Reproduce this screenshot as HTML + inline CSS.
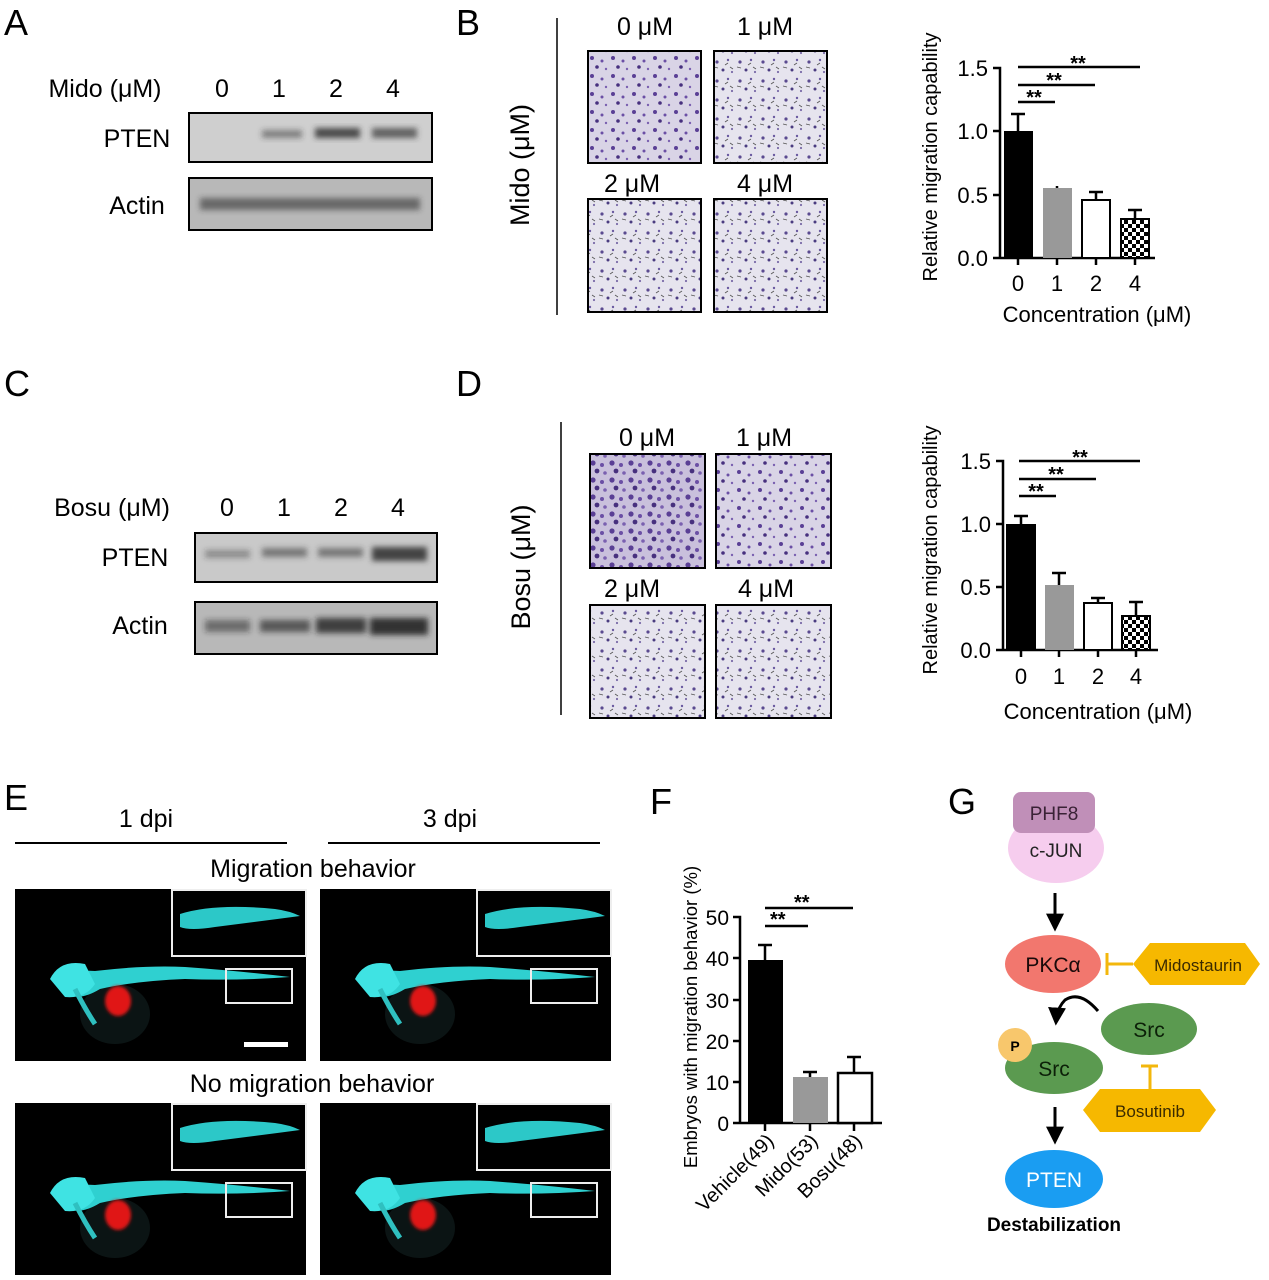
<!DOCTYPE html>
<html><head><meta charset="utf-8"><style>
html,body{margin:0;padding:0;background:#fff}
svg{display:block;font-family:"Liberation Sans",Arial,sans-serif}
</style></head><body>
<svg width="1269" height="1280" viewBox="0 0 1269 1280" xmlns="http://www.w3.org/2000/svg">
<defs>
<filter id="bl" x="-20%" y="-50%" width="140%" height="200%"><feGaussianBlur stdDeviation="3"/></filter>
<filter id="bl2"><feGaussianBlur stdDeviation="1.5"/></filter>
<pattern id="cellsL" width="23" height="19" patternUnits="userSpaceOnUse">
<rect width="23" height="19" fill="#e6e4ee"/>
<circle cx="4" cy="5" r="1.6" fill="#5a4a90"/><circle cx="15" cy="3" r="1.2" fill="#6a5aa0"/>
<circle cx="10" cy="13" r="1.5" fill="#4a3c80"/><circle cx="19" cy="15" r="1.1" fill="#7a6aa8"/>
<path d="M1 10 l4 1 M12 8 l3 -2 M17 10 l3 2" stroke="#555" stroke-width="0.8"/>
</pattern>
<pattern id="cellsD" width="19" height="17" patternUnits="userSpaceOnUse">
<rect width="19" height="17" fill="#c9c0dc"/>
<circle cx="4" cy="4" r="2.6" fill="#5a3f95"/><circle cx="13" cy="6" r="2" fill="#6b4fa5"/>
<circle cx="8" cy="12" r="2.4" fill="#47307e"/><circle cx="16" cy="14" r="1.8" fill="#7a60b0"/>
</pattern>
<pattern id="cellsM" width="21" height="18" patternUnits="userSpaceOnUse">
<rect width="21" height="18" fill="#d9d4e6"/>
<circle cx="4" cy="4" r="2" fill="#5a3f95"/><circle cx="14" cy="7" r="1.5" fill="#6b4fa5"/>
<circle cx="9" cy="13" r="1.8" fill="#47307e"/><circle cx="18" cy="15" r="1.2" fill="#7a60b0"/>
</pattern>
<pattern id="check" width="8" height="8" patternUnits="userSpaceOnUse">
<rect width="8" height="8" fill="#fff"/><rect width="4" height="4" fill="#000"/><rect x="4" y="4" width="4" height="4" fill="#000"/>
</pattern>
<marker id="ah" viewBox="0 0 10 10" refX="8" refY="5" markerWidth="6" markerHeight="6" orient="auto"><path d="M0 0 L10 5 L0 10 z" fill="#000"/></marker>
<g id="fish">
<rect width="291" height="172" fill="#000"/>
<ellipse cx="100" cy="125" rx="35" ry="30" fill="#0b1414"/>
<path d="M45 95 Q55 80 80 82 Q130 76 170 78 Q225 82 275 88 Q220 92 170 90 Q120 92 85 100 Q65 112 55 105 Z" fill="#2fd0d0"/>
<path d="M35 90 Q45 70 70 75 L80 95 Q70 110 50 108 Z" fill="#3fe3e3"/>
<path d="M60 100 Q70 120 80 135" stroke="#2fc0c0" stroke-width="5" fill="none"/>
<ellipse cx="103" cy="112" rx="13" ry="15" fill="#e01818" filter="url(#bl2)"/>
<rect x="157" y="1" width="134" height="66" fill="#000" stroke="#eee" stroke-width="2"/>
<path d="M165 25 Q200 14 260 20 Q275 22 285 27 Q240 33 200 38 Q175 42 165 38 Z" fill="#2cc8c8"/>
<rect x="211" y="80" width="66" height="34" fill="none" stroke="#eee" stroke-width="2"/>
</g>
</defs>
<g font-size="36" fill="#000">
<text x="4" y="35">A</text><text x="456" y="35">B</text>
<text x="4" y="396">C</text><text x="456" y="396">D</text>
<text x="4" y="810">E</text><text x="650" y="814">F</text>
<text x="948" y="814">G</text>
</g>
<!-- A -->
<g font-size="25" text-anchor="middle">
<text x="105" y="97">Mido (μM)</text>
<text x="222" y="97">0</text><text x="279" y="97">1</text><text x="336" y="97">2</text><text x="393" y="97">4</text>
<text x="137" y="147">PTEN</text><text x="137" y="214">Actin</text>
</g>
<rect x="189" y="113" width="243" height="49" fill="#cfcfcf" stroke="#000" stroke-width="2"/>
<g filter="url(#bl)" fill="#333"><rect x="262" y="130" width="40" height="8" opacity="0.5"/><rect x="315" y="128" width="45" height="10" opacity="0.85"/><rect x="372" y="128" width="45" height="10" opacity="0.7"/></g>
<rect x="189" y="178" width="243" height="52" fill="#b8b8b8" stroke="#000" stroke-width="2"/>
<g filter="url(#bl)" fill="#333"><rect x="200" y="198" width="220" height="12" opacity="0.6"/></g>
<!-- B -->
<line x1="557" y1="18" x2="557" y2="315" stroke="#000" stroke-width="1.5"/>
<text transform="translate(529,165) rotate(-90)" font-size="27" text-anchor="middle">Mido (μM)</text>
<g font-size="25" text-anchor="middle"><text x="645" y="35">0 μM</text><text x="765" y="35">1 μM</text><text x="632" y="192">2 μM</text><text x="765" y="192">4 μM</text></g>
<rect x="588" y="51" width="113" height="112" fill="url(#cellsM)" stroke="#000" stroke-width="2"/>
<rect x="714" y="51" width="113" height="112" fill="url(#cellsL)" stroke="#000" stroke-width="2"/>
<rect x="588" y="199" width="113" height="113" fill="url(#cellsL)" stroke="#000" stroke-width="2"/>
<rect x="714" y="199" width="113" height="113" fill="url(#cellsL)" stroke="#000" stroke-width="2"/>
<!-- B chart -->
<g stroke="#000" stroke-width="2.5" fill="none">
<path d="M993 68 H1000 V258 H1155 M993 131H1000 M993 195H1000 M993 258H1000 M1018 258v7 M1057 258v7 M1096 258v7 M1135 258v7"/>
<path d="M1018 102H1055 M1018 85H1095 M1018 67H1140"/>
<path d="M1018 131V114 M1011 114H1025 M1057 188V186 M1096 200V192 M1089 192H1103 M1135 219V210 M1128 210H1142"/>
</g>
<rect x="1004" y="131" width="29" height="127" fill="#000"/>
<rect x="1043" y="188" width="29" height="70" fill="#999"/>
<rect x="1082" y="200" width="28" height="58" fill="#fff" stroke="#000" stroke-width="2"/>
<rect x="1121" y="219" width="28" height="39" fill="url(#check)" stroke="#000" stroke-width="2"/>
<g font-size="22" text-anchor="end"><text x="988" y="76">1.5</text><text x="988" y="139">1.0</text><text x="988" y="203">0.5</text><text x="988" y="266">0.0</text></g>
<g font-size="22" text-anchor="middle"><text x="1018" y="291">0</text><text x="1057" y="291">1</text><text x="1096" y="291">2</text><text x="1135" y="291">4</text>
<text x="1097" y="322">Concentration (μM)</text>
<text transform="translate(937,157) rotate(-90)" font-size="20">Relative migration capability</text>
<text x="1034" y="104" font-size="20" font-weight="bold">**</text><text x="1054" y="87" font-size="20" font-weight="bold">**</text><text x="1078" y="70" font-size="20" font-weight="bold">**</text></g>
<!-- C -->
<g font-size="25" text-anchor="middle">
<text x="112" y="516">Bosu (μM)</text>
<text x="227" y="516">0</text><text x="284" y="516">1</text><text x="341" y="516">2</text><text x="398" y="516">4</text>
<text x="135" y="566">PTEN</text><text x="140" y="634">Actin</text>
</g>
<rect x="195" y="533" width="242" height="49" fill="#c9c9c9" stroke="#000" stroke-width="2"/>
<g filter="url(#bl)" fill="#333"><rect x="205" y="550" width="45" height="8" opacity="0.4"/><rect x="262" y="548" width="45" height="9" opacity="0.55"/><rect x="318" y="548" width="45" height="9" opacity="0.55"/><rect x="372" y="547" width="55" height="14" opacity="0.9"/></g>
<rect x="195" y="602" width="242" height="52" fill="#b8b8b8" stroke="#000" stroke-width="2"/>
<g filter="url(#bl)" fill="#222"><rect x="205" y="620" width="45" height="12" opacity="0.5"/><rect x="260" y="620" width="50" height="12" opacity="0.65"/><rect x="316" y="618" width="50" height="15" opacity="0.8"/><rect x="370" y="618" width="58" height="17" opacity="0.9"/></g>
<!-- D -->
<line x1="561" y1="422" x2="561" y2="715" stroke="#000" stroke-width="1.5"/>
<text transform="translate(530,567) rotate(-90)" font-size="27" text-anchor="middle">Bosu (μM)</text>
<g font-size="25" text-anchor="middle"><text x="647" y="446">0 μM</text><text x="764" y="446">1 μM</text><text x="632" y="597">2 μM</text><text x="766" y="597">4 μM</text></g>
<rect x="590" y="454" width="115" height="114" fill="url(#cellsD)" stroke="#000" stroke-width="2"/>
<rect x="716" y="454" width="115" height="114" fill="url(#cellsM)" stroke="#000" stroke-width="2"/>
<rect x="590" y="605" width="115" height="113" fill="url(#cellsL)" stroke="#000" stroke-width="2"/>
<rect x="716" y="605" width="115" height="113" fill="url(#cellsL)" stroke="#000" stroke-width="2"/>
<!-- D chart -->
<g stroke="#000" stroke-width="2.5" fill="none">
<path d="M996 461 H1003 V650 H1158 M996 524H1003 M996 587H1003 M996 650H1003 M1021 650v7 M1059 650v7 M1098 650v7 M1136 650v7"/>
<path d="M1019 496H1056 M1019 479H1096 M1019 461H1140"/>
<path d="M1021 524V516 M1014 516H1028 M1059 585V573 M1052 573H1066 M1098 603V598 M1091 598H1105 M1136 616V602 M1129 602H1143"/>
</g>
<rect x="1006" y="524" width="30" height="126" fill="#000"/>
<rect x="1045" y="585" width="29" height="65" fill="#999"/>
<rect x="1084" y="603" width="28" height="47" fill="#fff" stroke="#000" stroke-width="2"/>
<rect x="1122" y="616" width="28" height="34" fill="url(#check)" stroke="#000" stroke-width="2"/>
<g font-size="22" text-anchor="end"><text x="991" y="469">1.5</text><text x="991" y="532">1.0</text><text x="991" y="595">0.5</text><text x="991" y="658">0.0</text></g>
<g font-size="22" text-anchor="middle"><text x="1021" y="684">0</text><text x="1059" y="684">1</text><text x="1098" y="684">2</text><text x="1136" y="684">4</text>
<text x="1098" y="719">Concentration (μM)</text>
<text transform="translate(937,550) rotate(-90)" font-size="20">Relative migration capability</text>
<text x="1036" y="498" font-size="20" font-weight="bold">**</text><text x="1056" y="481" font-size="20" font-weight="bold">**</text><text x="1080" y="464" font-size="20" font-weight="bold">**</text></g>
<!-- E -->
<g font-size="25" text-anchor="middle">
<text x="146" y="827">1 dpi</text><text x="450" y="827">3 dpi</text>
<text x="313" y="877">Migration behavior</text><text x="312" y="1092">No migration behavior</text>
</g>
<line x1="15" y1="843" x2="287" y2="843" stroke="#000" stroke-width="2"/>
<line x1="328" y1="843" x2="600" y2="843" stroke="#000" stroke-width="2"/>
<use href="#fish" x="15" y="889"/>
<rect x="244" y="1042" width="44" height="5" fill="#fff"/>
<use href="#fish" x="320" y="889"/>
<use href="#fish" x="15" y="1103"/>
<use href="#fish" x="320" y="1103"/>
<!-- F -->
<g stroke="#000" stroke-width="2.5" fill="none">
<path d="M733 917H740V1123H882 M733 958H740 M733 1000H740 M733 1041H740 M733 1082H740 M733 1123H740 M765 1123v8 M810 1123v8 M854 1123v8"/>
<path d="M765 926H808 M765 908H853"/>
<path d="M765 960V945 M758 945H772 M810 1077V1072 M803 1072H817 M854 1073V1057 M847 1057H861"/>
</g>
<rect x="748" y="960" width="35" height="163" fill="#000"/>
<rect x="793" y="1077" width="35" height="46" fill="#999"/>
<rect x="838" y="1073" width="34" height="50" fill="#fff" stroke="#000" stroke-width="2.5"/>
<g font-size="21" text-anchor="end"><text x="729" y="925">50</text><text x="729" y="966">40</text><text x="729" y="1008">30</text><text x="729" y="1049">20</text><text x="729" y="1090">10</text><text x="729" y="1131">0</text></g>
<text transform="translate(697,1017) rotate(-90)" font-size="18.5" text-anchor="middle">Embryos with migration behavior (%)</text>
<g font-size="20" text-anchor="end">
<text transform="translate(775,1142) rotate(-45)">Vehicle(49)</text>
<text transform="translate(819,1142) rotate(-45)">Mido(53)</text>
<text transform="translate(863,1142) rotate(-45)">Bosu(48)</text>
</g>
<text x="770" y="926" font-size="20" font-weight="bold">**</text><text x="794" y="909" font-size="20" font-weight="bold">**</text>
<!-- G -->
<ellipse cx="1056" cy="848" rx="48" ry="35" fill="#f6cdee"/>
<rect x="1013" y="792" width="82" height="41" rx="8" fill="#c08fb8"/>
<g font-size="19" text-anchor="middle">
<text x="1054" y="820" fill="#3a2236">PHF8</text>
<text x="1056" y="857" fill="#222">c-JUN</text>
</g>
<line x1="1055" y1="893" x2="1055" y2="928" stroke="#000" stroke-width="3" marker-end="url(#ah)"/>
<ellipse cx="1053" cy="964" rx="48" ry="29" fill="#f2776e"/>
<text x="1053" y="972" font-size="21" text-anchor="middle" fill="#1a0a0a">PKCα</text>
<path d="M1107 953V975 M1107 964H1133" stroke="#f3b70c" stroke-width="3"/>
<polygon points="1133,964 1150,943 1245,943 1260,964 1245,985 1150,985" fill="#f6b800"/>
<text x="1198" y="971" font-size="17" text-anchor="middle" fill="#3a2a00">Midostaurin</text>
<ellipse cx="1149" cy="1029" rx="48" ry="26" fill="#5b9a50"/>
<text x="1149" y="1037" font-size="21" text-anchor="middle" fill="#0c2008">Src</text>
<path d="M1098 1011 Q1080 990 1065 1000 Q1057 1008 1056 1022" stroke="#000" stroke-width="3" fill="none" marker-end="url(#ah)"/>
<ellipse cx="1054" cy="1068" rx="49" ry="26" fill="#5b9a50"/>
<circle cx="1015" cy="1045" r="17" fill="#f8c76c"/>
<text x="1015" y="1051" font-size="14" text-anchor="middle" font-weight="bold">P</text>
<text x="1054" y="1076" font-size="21" text-anchor="middle" fill="#0c2008">Src</text>
<path d="M1141 1066H1158 M1150 1066V1090" stroke="#f3b70c" stroke-width="3"/>
<polygon points="1083,1110 1100,1089 1200,1089 1216,1110 1200,1132 1100,1132" fill="#f6b800"/>
<text x="1150" y="1117" font-size="17" text-anchor="middle" fill="#3a2a00">Bosutinib</text>
<line x1="1055" y1="1107" x2="1055" y2="1141" stroke="#000" stroke-width="3" marker-end="url(#ah)"/>
<ellipse cx="1054" cy="1179" rx="49" ry="29" fill="#1a9df2"/>
<text x="1054" y="1187" font-size="21" text-anchor="middle" fill="#fff">PTEN</text>
<text x="1054" y="1231" font-size="19" font-weight="bold" text-anchor="middle">Destabilization</text>
</svg>
</body></html>
